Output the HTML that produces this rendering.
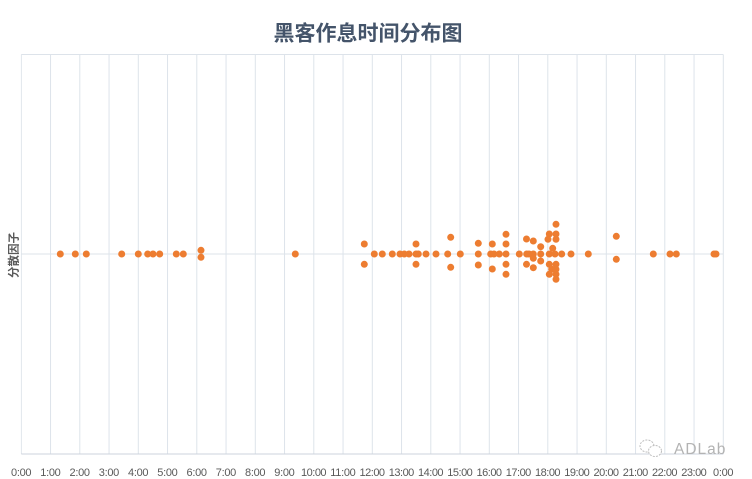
<!DOCTYPE html>
<html>
<head>
<meta charset="utf-8">
<style>
html,body{margin:0;padding:0;background:#fff;}
svg{display:block;}
text{font-family:"Liberation Sans","Noto Sans CJK SC",sans-serif;}
</style>
</head>
<body>
<svg width="752" height="479" viewBox="0 0 752 479" xmlns="http://www.w3.org/2000/svg">
<defs>
<pattern id="vg" patternUnits="userSpaceOnUse" x="20.8" y="0" width="29.25" height="479">
<rect x="0" y="0" width="1" height="479" fill="#dde3ea"/>
</pattern>
</defs>
<rect width="752" height="479" fill="#fff"/>
<text x="368" y="40.5" text-anchor="middle" font-size="21" font-weight="bold" fill="#44546a" style="font-family:'Noto Sans CJK SC','Liberation Sans',sans-serif;">黑客作息时间分布图</text>
<rect x="20.8" y="54.5" width="703.3" height="399.5" fill="url(#vg)"/>
<path d="M21.3 54.5H723.3M21.3 254H723.3" stroke="#dde3ea" stroke-width="1" fill="none"/>
<path d="M21.3 454H723.3" stroke="#cdd3dc" stroke-width="1" fill="none"/>
<text transform="translate(17.5,255) rotate(-90)" text-anchor="middle" font-size="11.5" font-weight="bold" fill="#595959" style="font-family:'Noto Sans CJK SC','Liberation Sans',sans-serif;">分散因子</text>
<g font-size="11" fill="#595959" text-anchor="middle" lengthAdjust="spacingAndGlyphs">
<text x="21.3" y="476" textLength="20.5">0:00</text><text x="50.55" y="476" textLength="20.5">1:00</text><text x="79.8" y="476" textLength="20.5">2:00</text><text x="109.05" y="476" textLength="20.5">3:00</text>
<text x="138.3" y="476" textLength="20.5">4:00</text><text x="167.55" y="476" textLength="20.5">5:00</text><text x="196.8" y="476" textLength="20.5">6:00</text><text x="226.05" y="476" textLength="20.5">7:00</text>
<text x="255.3" y="476" textLength="20.5">8:00</text><text x="284.55" y="476" textLength="20.5">9:00</text><text x="313.8" y="476" textLength="25.5">10:00</text><text x="343.05" y="476" textLength="25.5">11:00</text>
<text x="372.3" y="476" textLength="25.5">12:00</text><text x="401.55" y="476" textLength="25.5">13:00</text><text x="430.8" y="476" textLength="25.5">14:00</text><text x="460.05" y="476" textLength="25.5">15:00</text>
<text x="489.3" y="476" textLength="25.5">16:00</text><text x="518.55" y="476" textLength="25.5">17:00</text><text x="547.8" y="476" textLength="25.5">18:00</text><text x="577.05" y="476" textLength="25.5">19:00</text>
<text x="606.3" y="476" textLength="25.5">20:00</text><text x="635.55" y="476" textLength="25.5">21:00</text><text x="664.8" y="476" textLength="25.5">22:00</text><text x="694.05" y="476" textLength="25.5">23:00</text>
<text x="723.3" y="476" textLength="20.5">0:00</text>
</g>
<g fill="none" stroke="#bdbdbd" stroke-width="1" stroke-dasharray="2 1.2">
<ellipse cx="647" cy="446" rx="7" ry="6"/>
<ellipse cx="655" cy="451" rx="6.5" ry="5.5" fill="#fff"/>
</g>
<text x="674" y="454" font-size="15.5" fill="#b3b3b3" letter-spacing="1">ADLab</text>
<g fill="#ed7d31">
<circle cx="60.3" cy="254" r="3.5"/><circle cx="75.3" cy="254" r="3.5"/><circle cx="86.3" cy="254" r="3.5"/><circle cx="121.7" cy="254" r="3.5"/>
<circle cx="138.3" cy="254" r="3.5"/><circle cx="147.7" cy="254" r="3.5"/><circle cx="153" cy="254" r="3.5"/><circle cx="159.7" cy="254" r="3.5"/>
<circle cx="176.3" cy="254" r="3.5"/><circle cx="183.3" cy="254" r="3.5"/><circle cx="201" cy="250.3" r="3.5"/><circle cx="201" cy="257.3" r="3.5"/>
<circle cx="295.3" cy="254" r="3.5"/><circle cx="374.3" cy="254" r="3.5"/><circle cx="382.3" cy="254" r="3.5"/><circle cx="392.3" cy="254" r="3.5"/>
<circle cx="400" cy="254" r="3.5"/><circle cx="404.3" cy="254" r="3.5"/><circle cx="409" cy="254" r="3.5"/><circle cx="416" cy="254" r="3.5"/>
<circle cx="418.3" cy="254" r="3.5"/><circle cx="426" cy="254" r="3.5"/><circle cx="436" cy="254" r="3.5"/><circle cx="447.7" cy="254" r="3.5"/>
<circle cx="460.3" cy="254" r="3.5"/><circle cx="478.3" cy="254" r="3.5"/><circle cx="490.7" cy="254" r="3.5"/><circle cx="494" cy="254" r="3.5"/>
<circle cx="499.3" cy="254" r="3.5"/><circle cx="506" cy="254" r="3.5"/><circle cx="519.3" cy="254" r="3.5"/><circle cx="526.7" cy="254" r="3.5"/>
<circle cx="529" cy="254" r="3.5"/><circle cx="533.3" cy="254" r="3.5"/><circle cx="540.7" cy="254" r="3.5"/><circle cx="549.3" cy="254" r="3.5"/>
<circle cx="555" cy="254" r="3.5"/><circle cx="561.7" cy="254" r="3.5"/><circle cx="571" cy="254" r="3.5"/><circle cx="588.3" cy="254" r="3.5"/>
<circle cx="653.3" cy="254" r="3.5"/><circle cx="670" cy="254" r="3.5"/><circle cx="676.3" cy="254" r="3.5"/><circle cx="714" cy="254" r="3.5"/>
<circle cx="716" cy="254" r="3.5"/><circle cx="364.3" cy="244" r="3.5"/><circle cx="364.3" cy="264.3" r="3.5"/><circle cx="416" cy="244" r="3.5"/>
<circle cx="416" cy="264.3" r="3.5"/><circle cx="450.7" cy="237.3" r="3.5"/><circle cx="450.7" cy="267.3" r="3.5"/><circle cx="478.3" cy="243.3" r="3.5"/>
<circle cx="478.3" cy="265" r="3.5"/><circle cx="492.3" cy="244" r="3.5"/><circle cx="492.3" cy="269" r="3.5"/><circle cx="506" cy="234.3" r="3.5"/>
<circle cx="506" cy="244" r="3.5"/><circle cx="506" cy="264.3" r="3.5"/><circle cx="506" cy="274.3" r="3.5"/><circle cx="526.5" cy="239" r="3.5"/>
<circle cx="526.5" cy="264.3" r="3.5"/><circle cx="533.3" cy="241" r="3.5"/><circle cx="533.3" cy="258.3" r="3.5"/><circle cx="533.3" cy="267.7" r="3.5"/>
<circle cx="540.7" cy="246.7" r="3.5"/><circle cx="540.7" cy="261" r="3.5"/><circle cx="549.3" cy="234" r="3.5"/><circle cx="548" cy="239.3" r="3.5"/>
<circle cx="552.7" cy="248.3" r="3.5"/><circle cx="549.3" cy="264.3" r="3.5"/><circle cx="551.7" cy="269.3" r="3.5"/><circle cx="549.3" cy="274.3" r="3.5"/>
<circle cx="556" cy="224.3" r="3.5"/><circle cx="556" cy="234" r="3.5"/><circle cx="556" cy="239.3" r="3.5"/><circle cx="556" cy="264.3" r="3.5"/>
<circle cx="556" cy="269.3" r="3.5"/><circle cx="556" cy="274.3" r="3.5"/><circle cx="556" cy="279.3" r="3.5"/><circle cx="616.3" cy="236.3" r="3.5"/>
<circle cx="616.3" cy="259.3" r="3.5"/>
</g>
</svg>
</body>
</html>
